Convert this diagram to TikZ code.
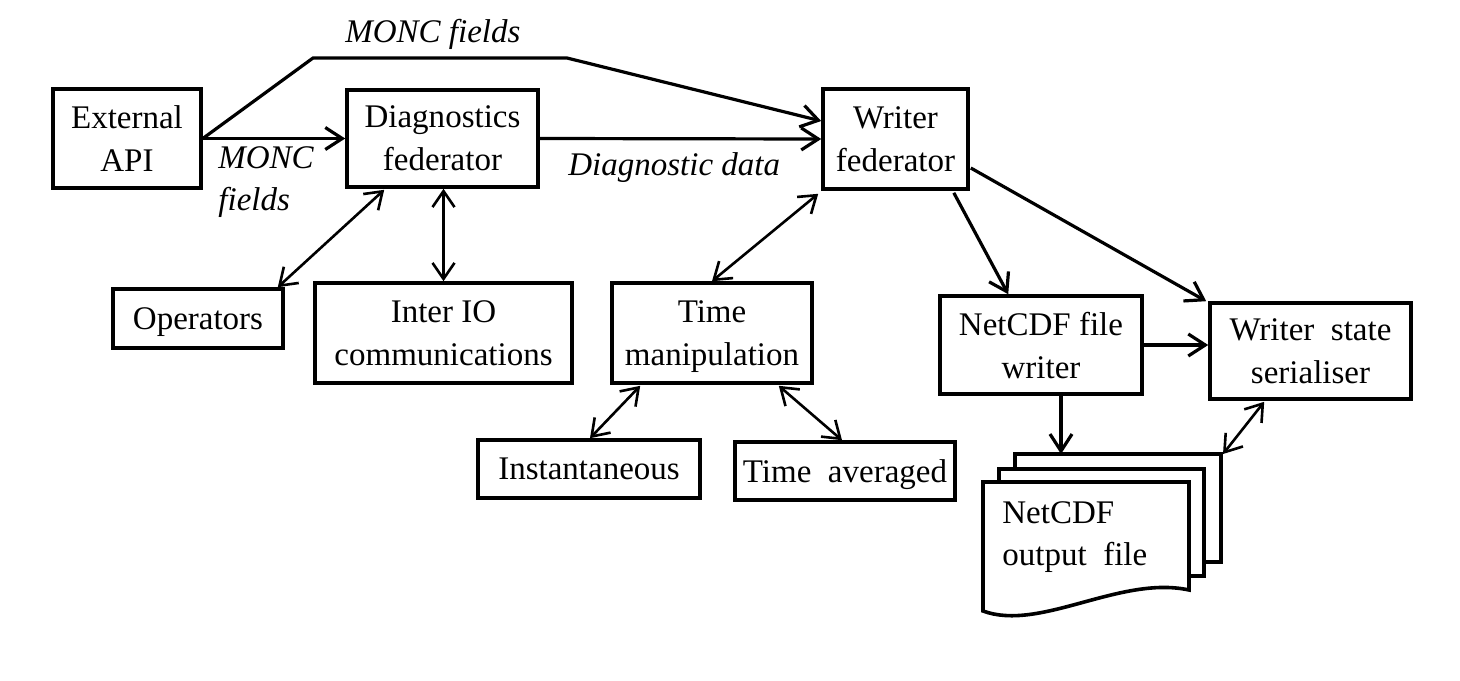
\documentclass[tikz,border=0pt]{standalone}
\usepackage{fontspec}
\setmainfont{Liberation Serif}
\usetikzlibrary{arrows.meta,calc}
\begin{document}
\begin{tikzpicture}[x=0.5pt,y=-0.5pt,
  box/.style={draw,line width=1.8pt,align=center,inner sep=0pt,text depth=0pt,font=\fontsize{16.5}{21.5}\selectfont},
  lbl/.style={font=\fontsize{16.5}{21}\selectfont\itshape,inner sep=0pt,align=left},
  txt/.style={font=\fontsize{16.5}{21}\selectfont,inner sep=0pt,align=left},
  conn/.style={line width=1.6pt,-{Straight Barb[length=8.5pt,width=11pt,line width=1.6pt]}},
  dbl/.style={line width=1.3pt,{Straight Barb[length=8pt,width=11pt,line width=1.3pt]}-{Straight Barb[length=8pt,width=11pt,line width=1.3pt]}},
  page/.style={draw,fill=white,line width=1.8pt,line join=miter}]
\useasboundingbox (0,0) rectangle (1460,680);

% boxes
\node[box,minimum width=74pt,minimum height=49.5pt] (ext) at (127,138.5) {External\\API};
\node[box,minimum width=95.5pt,minimum height=48.5pt] (diag) at (442.5,138.5) {Diagnostics\\federator};
\node[box,minimum width=72.5pt,minimum height=50pt] (writer) at (895.5,139) {Writer\\federator};
\node[box,minimum width=85pt,minimum height=29.5pt] (ops) at (198,318.5) {Operators};
\node[box,minimum width=128.5pt,minimum height=50pt] (inter) at (443.5,333) {Inter IO\\communications};
\node[box,minimum width=100pt,minimum height=50pt] (tm) at (712,333) {Time\\manipulation};
\node[box,minimum width=111pt,minimum height=29pt] (inst) at (589,469) {Instantaneous};
\node[box,minimum width=110pt,minimum height=29pt] (tavg) at (845,471) {Time\ \ averaged};
\node[box,minimum width=101pt,minimum height=49pt] (ncw) at (1041,345) {NetCDF file\\writer};
\node[box,minimum width=100.5pt,minimum height=48pt] (ser) at (1310.5,351) {Writer\ \ state\\serialiser};

% multi-document
\draw[page] (1015,454) rectangle (1221,562);
\draw[page] (999,469) rectangle (1204,576);
\draw[page] (983,611) -- (983,482) -- (1189,482) -- (1189,590) .. controls (1120,575) and (1040,632) .. cycle;
\node[txt,anchor=base west] (outtxt) at (1002,565) {NetCDF\\output\ \ file};
\coordinate (doctop) at (1061,454);
\coordinate (doccorner) at (1223,454);

% labels
\node[lbl,anchor=base west] (lbltop) at (345,42) {MONC fields};
\node[lbl,anchor=base west] (lblmid) at (218,210) {MONC\\fields};
\node[lbl,anchor=base west] (lbldd) at (568,175) {Diagnostic data};

% connectors
\coordinate (c1) at (313,58);
\coordinate (c2) at (567,58);
\draw[conn,line join=miter] (ext.east) -- (c1) -- (c2) -- ([yshift=9pt]writer.west);
\draw[conn] (ext.east) -- (diag.west);
\draw[conn] (diag.east) -- (writer.west);
\draw[dbl] ($(diag.south west)+(39,1)$) -- ($(ops.north east)+(-7,0)$);
\draw[dbl] (inter.north) -- (inter.north |- diag.south);
\draw[dbl] ($(writer.south west)+(-3,3)$) -- (tm.north);
\draw[dbl] ($(tm.south west)+(30,1)$) -- ($(inst.north)+(1,0)$);
\draw[dbl] ($(tm.south east)+(-35,1)$) -- ($(tavg.north)+(-3,0)$);
\draw[conn] ($(writer.south east)+(-16,2)$) -- ($(ncw.north west)+(70,0)$);
\draw[conn] ($(writer.east)+(1,29)$) -- ($(ser.north west)+(-2,0)$);
\draw[conn] (ncw.east) -- (ncw.east -| ser.west);
\draw[conn] ($(ncw.south)+(20,0)$) -- (doctop);
\draw[dbl] ($(ser.south west)+(56,1)$) -- (doccorner);
\end{tikzpicture}
\end{document}
